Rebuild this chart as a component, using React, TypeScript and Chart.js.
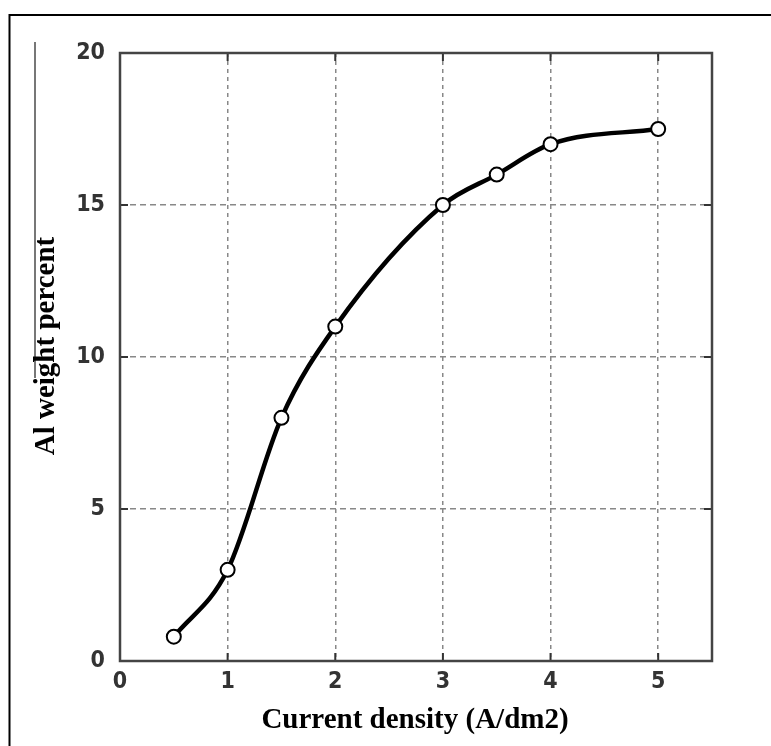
import React, { useEffect, useRef } from "react";
import { Chart, registerables } from "chart.js";

Chart.register(...registerables);

const currentDensity = [0.5, 1, 1.5, 2, 3, 3.5, 4, 5];
const alWeightPercent = [0.8, 3.0, 8.0, 11.0, 15.0, 16.0, 17.0, 17.5];
const xTicks = [0, 1, 2, 3, 4, 5];
const yTicks = [0, 5, 10, 15, 20];
const xTitle = "Current density (A/dm2)";
const yTitle = "Al weight percent";

const tickFont = "'Liberation Sans Narrow', 'DejaVu Sans Condensed', Arial, sans-serif";

const decorPlugin = {
  id: "decor",
  beforeDraw(chart: any) {
    const ctx = chart.ctx;
    ctx.save();
    ctx.fillStyle = "#fff";
    ctx.fillRect(0, 0, chart.width, chart.height);
    // outer frame
    ctx.strokeStyle = "#000";
    ctx.lineWidth = 2;
    ctx.beginPath();
    ctx.moveTo(9.5, chart.height);
    ctx.lineTo(9.5, 15);
    ctx.lineTo(chart.width, 15);
    ctx.stroke();
    // stray vertical line
    ctx.strokeStyle = "#777";
    ctx.lineWidth = 2;
    ctx.beginPath();
    ctx.moveTo(35, 42);
    ctx.lineTo(35, 378);
    ctx.stroke();
    ctx.restore();
  },
  afterDraw(chart: any) {
    const ctx = chart.ctx;
    const a = chart.chartArea;
    const xs = chart.scales.x;
    const ys = chart.scales.y;
    ctx.save();
    // inner ticks
    ctx.strokeStyle = "#333";
    ctx.lineWidth = 2;
    const tl = 8;
    ctx.beginPath();
    xTicks.forEach((v) => {
      const px = xs.getPixelForValue(v);
      ctx.moveTo(px, a.bottom);
      ctx.lineTo(px, a.bottom - tl);
      ctx.moveTo(px, a.top);
      ctx.lineTo(px, a.top + tl);
    });
    yTicks.forEach((v) => {
      const py = ys.getPixelForValue(v);
      ctx.moveTo(a.left, py);
      ctx.lineTo(a.left + tl, py);
      ctx.moveTo(a.right, py);
      ctx.lineTo(a.right - tl, py);
    });
    ctx.stroke();
    // axes box
    ctx.strokeStyle = "#444";
    ctx.lineWidth = 2.5;
    ctx.strokeRect(a.left, a.top, a.right - a.left, a.bottom - a.top);
    // titles
    ctx.fillStyle = "#000";
    ctx.font = "bold 29px 'Liberation Serif', 'Times New Roman', serif";
    ctx.textAlign = "center";
    ctx.textBaseline = "alphabetic";
    ctx.fillText(xTitle, 415, 728);
    ctx.translate(54, 346);
    ctx.rotate(-Math.PI / 2);
    ctx.fillText(yTitle, 0, 0);
    ctx.restore();
  },
};

export default function App() {
  const ref = useRef<HTMLCanvasElement | null>(null);

  useEffect(() => {
    if (!ref.current) return;
    const chart = new Chart(ref.current, {
      type: "line",
      data: {
        datasets: [
          {
            data: currentDensity.map((x, i) => ({ x, y: alWeightPercent[i] })),
            borderColor: "#000",
            borderWidth: 4.5,
            cubicInterpolationMode: "monotone",
            pointRadius: 7,
            pointBackgroundColor: "#fff",
            pointBorderColor: "#000",
            pointBorderWidth: 2,
          },
        ],
      },
      options: {
        animation: false,
        responsive: false,
        devicePixelRatio: 1,
        layout: { padding: { left: 0, top: 53, right: 59, bottom: 0 } },
        plugins: { legend: { display: false }, tooltip: { enabled: false } },
        scales: {
          x: {
            type: "linear",
            min: 0,
            max: 5.5,
            afterBuildTicks: (s: any) => {
              s.ticks = xTicks.map((v) => ({ value: v }));
            },
            afterFit: (s: any) => {
              s.height = 85;
            },
            grid: {
              drawTicks: false,
              color: "#888",
              lineWidth: 1.5,
            },
            border: { display: false, dash: [4, 4] },
            ticks: {
              padding: 7,
              color: "#333",
              font: { family: tickFont, size: 23, weight: "bold" },
              maxRotation: 0,
            },
          },
          y: {
            type: "linear",
            min: 0,
            max: 20,
            afterBuildTicks: (s: any) => {
              s.ticks = yTicks.map((v) => ({ value: v }));
            },
            afterFit: (s: any) => {
              s.width = 120;
            },
            grid: {
              drawTicks: false,
              color: "#888",
              lineWidth: 1.5,
            },
            border: { display: false, dash: [6, 4] },
            ticks: {
              padding: 15,
              color: "#333",
              font: { family: tickFont, size: 23, weight: "bold" },
            },
          },
        },
      },
      plugins: [decorPlugin],
    });
    return () => chart.destroy();
  }, []);

  return (
    <div style={{ position: "absolute", left: 0, top: 0, width: 771, height: 746 }}>
      <canvas ref={ref} width={771} height={746} style={{ width: 771, height: 746, display: "block" }} />
    </div>
  );
}
